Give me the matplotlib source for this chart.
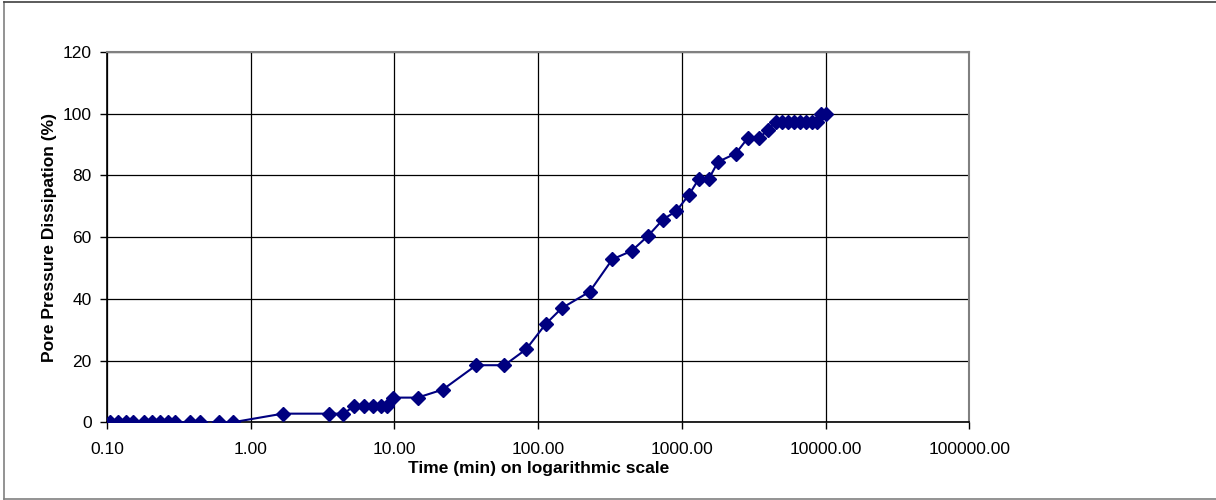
import numpy as np
import matplotlib
matplotlib.use("Agg")
import matplotlib.pyplot as plt
from matplotlib.ticker import FixedLocator, FuncFormatter, NullLocator
from matplotlib.lines import Line2D

plt.rcParams['font.family'] = ['Liberation Sans', 'DejaVu Sans']

# elapsed time (min) and pore pressure dissipation (%)
time_min = [0.105, 0.120, 0.135, 0.151, 0.182, 0.207, 0.235, 0.264, 0.299,
            0.378, 0.446, 0.598, 0.748,
            1.67, 3.49, 4.41,
            5.27, 6.18, 7.14, 8.08, 8.84,
            9.84, 14.5, 21.7, 37.1, 58.3,
            82.6, 112.6, 146, 228, 328, 449, 584, 738, 916,
            1120, 1316, 1545, 1784, 2370, 2886, 3443, 3980,
            4500, 4955, 5455, 6010, 6610, 7280, 8015, 8685,
            9265, 10140]
dissipation = [0.0] * 13 + \
    [2.8, 2.8, 2.8,
     5.3, 5.3, 5.3, 5.3, 5.3,
     8.0, 8.0, 10.6, 18.5, 18.5,
     23.7, 31.8, 37.0, 42.3, 52.8, 55.6, 60.5, 65.7, 68.5,
     73.7, 79.0, 79.0, 84.4, 87.1, 92.2, 92.2, 94.7] + \
    [97.4] * 8 + [100.0, 100.0]

x_ticks = [0.1, 1, 10, 100, 1000, 10000, 100000]
y_ticks = [0, 20, 40, 60, 80, 100, 120]

fig = plt.figure(figsize=(12.16, 5.0), dpi=100)
ax = fig.add_axes([107 / 1216, 1 - 422.3 / 500, (969.3 - 107) / 1216, (422.3 - 52) / 500])

ax.plot(time_min, dissipation, color='#000080', lw=1.5, marker='D',
        markersize=7.5, markerfacecolor='#000080', markeredgecolor='#000080', zorder=3)

ax.set_xscale('log')
ax.set_xlim(0.1, 100000)
ax.set_ylim(0, 120)
ax.xaxis.set_major_locator(FixedLocator(x_ticks))
ax.xaxis.set_minor_locator(NullLocator())
ax.xaxis.set_major_formatter(FuncFormatter(lambda v, p: '%.2f' % v))
ax.set_yticks(y_ticks)

ax.grid(True, which='major', color='black', lw=0.9)
ax.set_axisbelow(True)
for s in ['top', 'right']:
    ax.spines[s].set_color('#808080')
    ax.spines[s].set_linewidth(1.5)
for s in ['left', 'bottom']:
    ax.spines[s].set_color('black')
    ax.spines[s].set_linewidth(1.2)

ax.tick_params(axis='both', which='major', direction='out', length=5, width=1,
               labelsize=12.5, pad=6)
ax.tick_params(axis='x', pad=9)

ax.set_xlabel('Time (min) on logarithmic scale', fontsize=12.5, fontweight='bold', labelpad=3)
ax.set_ylabel('Pore Pressure Dissipation (%)', fontsize=12.5, fontweight='bold', labelpad=4)

# outer chart border
fig.add_artist(Line2D([4 / 1216, 4 / 1216], [1 / 500, 498 / 500], color='#808080', lw=1.2))
fig.add_artist(Line2D([4 / 1216, 1], [498 / 500, 498 / 500], color='#404040', lw=1.2))
fig.add_artist(Line2D([4 / 1216, 1], [1 / 500, 1 / 500], color='#808080', lw=1.2))

fig.savefig('out.png', dpi=100, facecolor='white')
